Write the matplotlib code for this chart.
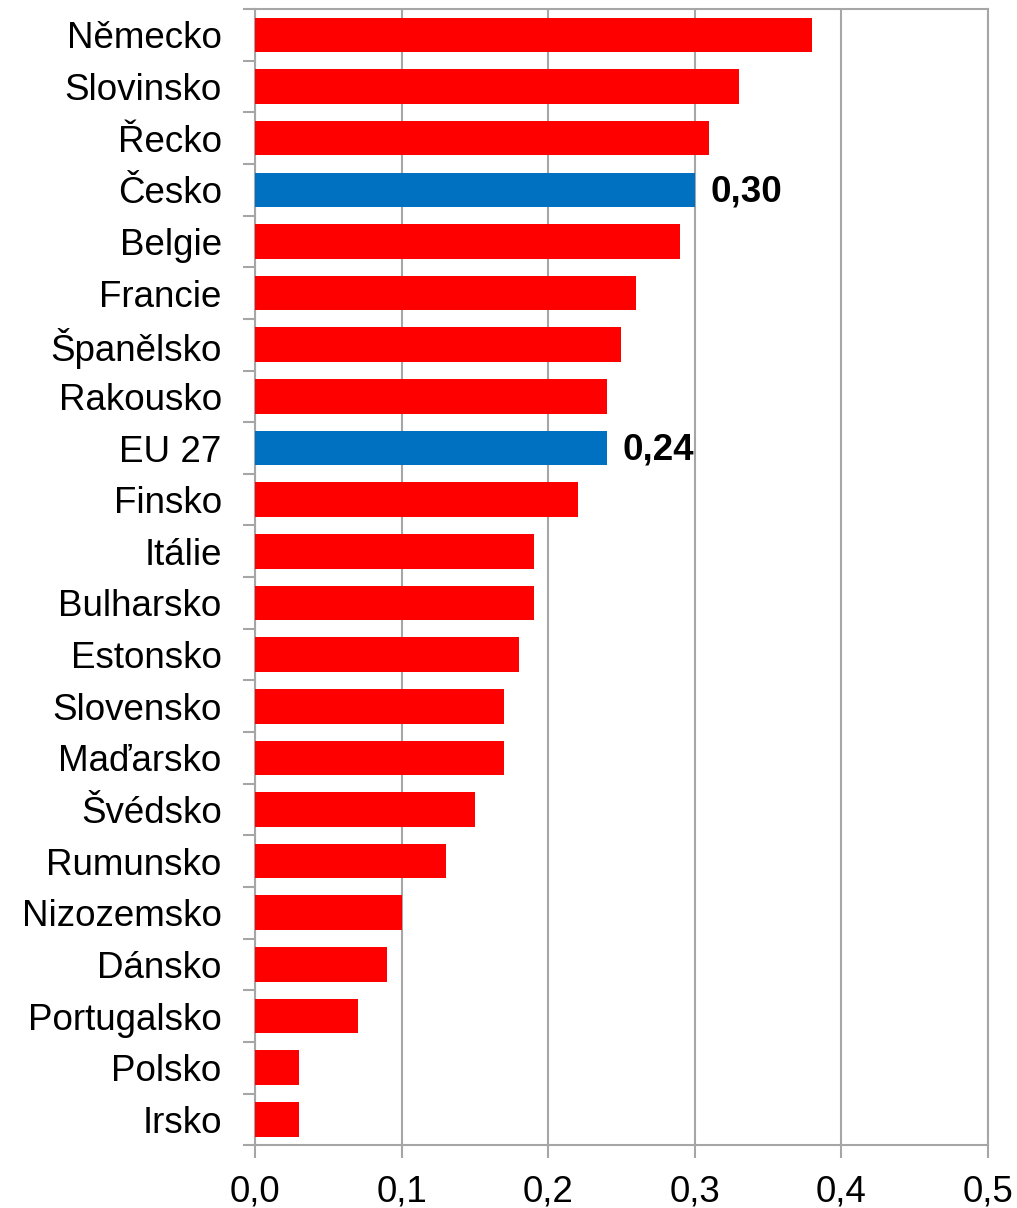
import numpy as np
import matplotlib.pyplot as plt
from matplotlib.ticker import FixedLocator

plt.rcParams['font.family'] = ['Liberation Sans', 'DejaVu Sans']

countries = ["Německo", "Slovinsko", "Řecko", "Česko", "Belgie", "Francie",
             "Španělsko", "Rakousko", "EU 27", "Finsko", "Itálie", "Bulharsko",
             "Estonsko", "Slovensko", "Maďarsko", "Švédsko", "Rumunsko",
             "Nizozemsko", "Dánsko", "Portugalsko", "Polsko", "Irsko"]
values = [0.38, 0.33, 0.31, 0.30, 0.29, 0.26, 0.25, 0.24, 0.24, 0.22, 0.19,
          0.19, 0.18, 0.17, 0.17, 0.15, 0.13, 0.10, 0.09, 0.07, 0.03, 0.03]
highlight = ["Česko", "EU 27"]

red = "#ff0000"
blue = "#0070c0"
grid_col = "#a6a6a6"

fig = plt.figure(figsize=(10.17, 12.08), dpi=100)
ax = fig.add_axes([0.2507, 0.052, 0.7208, 0.9405])

y = np.arange(len(countries))
colors = [blue if c in highlight else red for c in countries]
ax.barh(y, values, height=0.67, color=colors, zorder=3)

for yi, c, v in zip(y, countries, values):
    if c in highlight:
        ax.text(v + 0.011, yi + 0.04, f"{v:.2f}".replace(".", ","), va="center",
                ha="left", fontsize=26.5, fontweight="bold", zorder=4)

ax.set_xlim(0, 0.5)
ax.set_ylim(len(countries) - 0.5, -0.5)
ax.set_xticks(np.arange(0, 0.51, 0.1))
ax.set_xticklabels([f"{t:.1f}".replace(".", ",") for t in np.arange(0, 0.51, 0.1)])
ax.xaxis.grid(True, color=grid_col, linewidth=1.5, zorder=0)

# category labels centred, tick marks on the boundaries
ax.yaxis.set_major_locator(FixedLocator(np.arange(-0.5, len(countries), 1.0)))
ax.yaxis.set_minor_locator(FixedLocator(y))
ax.set_yticklabels([])
ax.set_yticklabels(countries, minor=True)
ax.tick_params(axis="y", which="minor", length=0, pad=24, labelsize=26.5)
ax.tick_params(axis="y", which="major", length=9, width=1.5, color=grid_col, direction="out")
ax.tick_params(axis="x", length=9, width=1.5, color=grid_col, direction="out",
               labelsize=26.5, pad=12)

for s in ax.spines.values():
    s.set_color(grid_col)
    s.set_linewidth(1.5)

fig.savefig("out.png", dpi=100)
